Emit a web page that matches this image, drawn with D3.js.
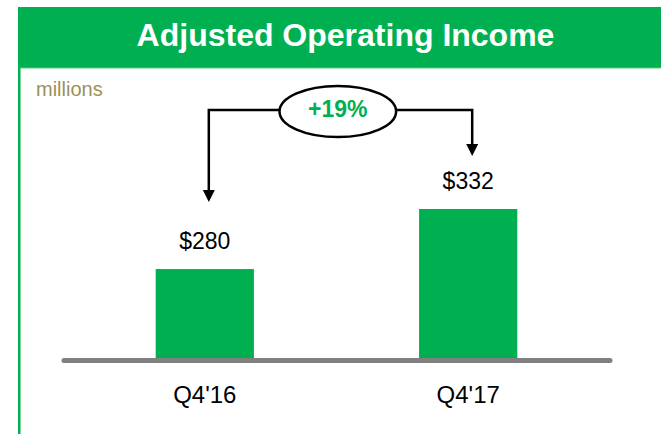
<!DOCTYPE html>
<html>
<head>
<meta charset="utf-8">
<script src="https://cdn.jsdelivr.net/npm/d3@7"></script>
<style>
  html, body { margin: 0; padding: 0; background: #fff; }
  svg { display: block; }
  text { font-family: "Liberation Sans", Arial, sans-serif; }
</style>
</head>
<body>
<svg id="chart" width="661" height="434"></svg>
<script>
const titleText = "Adjusted Operating Income";
const unitLabel = "millions";
const categories = ["Q4'16", "Q4'17"];
const values = [280, 332];
const valueLabels = ["$280", "$332"];
const changeLabel = "+19%";

const W = 661, H = 434;
const green = "#00B050";
const svg = d3.select("#chart");

// frame: left border + header
svg.append("rect").attr("x", 18).attr("y", 7).attr("width", 2.5).attr("height", H - 7).attr("fill", green);
svg.append("path")
  .attr("d", "M18,68 L18,11 Q18,7 22,7 L" + W + ",7 L" + W + ",68 Z")
  .attr("fill", green);
svg.append("line").attr("x1", 20).attr("x2", W).attr("y1", 68).attr("y2", 68)
  .attr("stroke", "#5cc98a").attr("stroke-width", 1);

svg.append("text")
  .attr("x", 345.5).attr("y", 46)
  .attr("text-anchor", "middle")
  .attr("fill", "#fff").attr("font-weight", "bold").attr("font-size", 32)
  .text(titleText);

svg.append("text")
  .attr("x", 36).attr("y", 96)
  .attr("fill", "#9C8F5A").attr("font-size", 20)
  .text(unitLabel);

// scales
const x = d3.scaleBand().domain(categories)
  .range([73.5, 599.5]).paddingInner(0.627).paddingOuter(0.312);
const y = d3.scaleLinear().domain([203, 332]).range([358, 209]);

const data = categories.map((c, i) => ({ c, v: values[i], label: valueLabels[i] }));

svg.selectAll("rect.bar").data(data).enter().append("rect")
  .attr("class", "bar")
  .attr("x", d => x(d.c))
  .attr("width", x.bandwidth())
  .attr("y", d => y(d.v))
  .attr("height", d => y(203) - y(d.v))
  .attr("fill", green);

// baseline axis
svg.append("line")
  .attr("x1", 64).attr("x2", 610)
  .attr("y1", 360.5).attr("y2", 360.5)
  .attr("stroke", "#808080").attr("stroke-width", 5).attr("stroke-linecap", "round");

// category labels (axis)
const axis = d3.axisBottom(x).tickSize(0).tickPadding(0);
const ag = svg.append("g").attr("transform", "translate(0,385)").call(axis);
ag.select(".domain").remove();
ag.selectAll("text")
  .attr("dy", null).attr("y", 18)
  .attr("fill", "#000").attr("font-size", 24)
  .attr("font-family", "'Liberation Sans', Arial, sans-serif");

// value labels
svg.selectAll("text.val").data(data).enter().append("text")
  .attr("class", "val")
  .attr("x", d => x(d.c) + x.bandwidth() / 2)
  .attr("y", d => y(d.v) - 20)
  .attr("text-anchor", "middle")
  .attr("fill", "#000").attr("font-size", 23)
  .text(d => d.label);

// change annotation
const cx = 337.8, cy = 111.5, lineY = 110;
const tipOffsets = [67, 53];
const ax = data.map(d => x(d.c) + x.bandwidth() / 2 + 4);
const tips = data.map((d, i) => y(d.v) - tipOffsets[i]);
const ann = svg.append("g");
ann.append("path")
  .attr("d", `M${ax[0]},${tips[0] - 11} L${ax[0]},${lineY} L${ax[1]},${lineY} L${ax[1]},${tips[1] - 11}`)
  .attr("fill", "none").attr("stroke", "#000").attr("stroke-width", 2.5);
ax.forEach((a, i) => {
  ann.append("path")
    .attr("d", `M${a - 6},${tips[i] - 12} L${a + 6},${tips[i] - 12} L${a},${tips[i]} Z`)
    .attr("fill", "#000");
});
ann.append("ellipse")
  .attr("cx", cx).attr("cy", cy).attr("rx", 58.3).attr("ry", 25.5)
  .attr("fill", "#fff").attr("stroke", "#000").attr("stroke-width", 2.5);
ann.append("text")
  .attr("x", cx).attr("y", 117)
  .attr("text-anchor", "middle")
  .attr("fill", green).attr("font-weight", "bold").attr("font-size", 23)
  .text(changeLabel);
</script>
</body>
</html>
